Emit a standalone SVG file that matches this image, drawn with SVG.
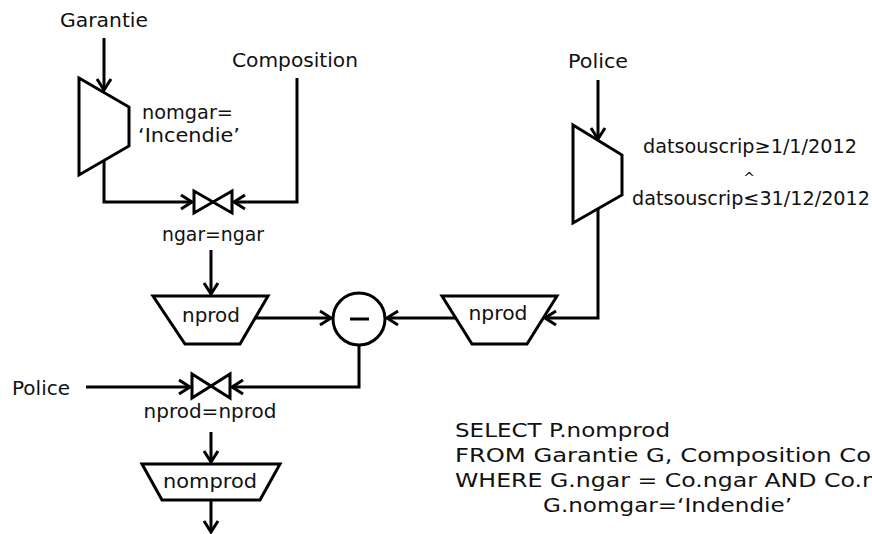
<svg xmlns="http://www.w3.org/2000/svg" width="872" height="534" viewBox="0 0 872 534">
  <style>
    text { font-family: "DejaVu Sans", "Liberation Sans", sans-serif; font-size: 19px; fill: #111; }
    .op { fill: #fff; stroke: #000; stroke-width: 3; stroke-linejoin: miter; }
    .ln { fill: none; stroke: #000; stroke-width: 3; }
    .mid { text-anchor: middle; }
  </style>
  <defs>
    <marker id="arr" viewBox="-14 -9 16 18" refX="0" refY="0" markerWidth="16" markerHeight="18" markerUnits="userSpaceOnUse" orient="auto">
      <path d="M-11,-7 L0,0 L-11,7" fill="none" stroke="#000" stroke-width="3"/>
    </marker>
  </defs>
  <rect width="872" height="534" fill="#fff"/>

  <g id="connectors">
    <path class="ln" d="M104,38 V90" marker-end="url(#arr)"/>
    <path class="ln" d="M104,160 V202 H192" marker-end="url(#arr)"/>
    <path class="ln" d="M297,78 V202 H234" marker-end="url(#arr)"/>
    <path class="ln" d="M211,250 V294" marker-end="url(#arr)"/>
    <path class="ln" d="M255,318 H331" marker-end="url(#arr)"/>
    <path class="ln" d="M598,80 V139" marker-end="url(#arr)"/>
    <path class="ln" d="M598,209 V318 H545" marker-end="url(#arr)"/>
    <path class="ln" d="M456,318 H387" marker-end="url(#arr)"/>
    <path class="ln" d="M359,345 V387 H232" marker-end="url(#arr)"/>
    <path class="ln" d="M86,387 H190" marker-end="url(#arr)"/>
    <path class="ln" d="M211,432 V462" marker-end="url(#arr)"/>
    <path class="ln" d="M211,500 V532" marker-end="url(#arr)"/>
  </g>

  <g id="garantie-label"><text x="104" y="27" class="mid" textLength="88" lengthAdjust="spacingAndGlyphs">Garantie</text></g>
  <g id="composition-label"><text x="295" y="67" class="mid" textLength="126" lengthAdjust="spacingAndGlyphs">Composition</text></g>
  <g id="police-label-right"><text x="598" y="68" class="mid" textLength="60" lengthAdjust="spacingAndGlyphs">Police</text></g>
  <g id="police-label-left"><text x="12" y="395" textLength="58" lengthAdjust="spacingAndGlyphs">Police</text></g>

  <g id="select-garantie">
    <polygon class="op" points="79,78 129,107 129,146 79,175"/>
    <text x="142" y="119" textLength="91" lengthAdjust="spacingAndGlyphs">nomgar=</text>
    <text x="138" y="142" textLength="102" lengthAdjust="spacingAndGlyphs">‘Incendie’</text>
  </g>

  <g id="join-ngar">
    <path class="op" d="M194,191 L194,213 L232,191 L232,213 Z"/>
    <text x="213" y="241" class="mid" textLength="102" lengthAdjust="spacingAndGlyphs">ngar=ngar</text>
  </g>

  <g id="project-nprod-left">
    <polygon class="op" points="153,296 268,296 240,344 185,344"/>
    <text x="211" y="322" class="mid" textLength="58" lengthAdjust="spacingAndGlyphs">nprod</text>
  </g>

  <g id="select-police">
    <polygon class="op" points="573,125 622,155 622,195 573,223"/>
    <text x="750" y="153" class="mid" textLength="214" lengthAdjust="spacingAndGlyphs">datsouscrip≥1/1/2012</text>
    <text x="749" y="183" class="mid" style="font-size:14px">^</text>
    <text x="751" y="205" class="mid" textLength="238" lengthAdjust="spacingAndGlyphs">datsouscrip≤31/12/2012</text>
  </g>

  <g id="project-nprod-right">
    <polygon class="op" points="442,296 557,296 527,344 472,344"/>
    <text x="498" y="320" class="mid" textLength="59" lengthAdjust="spacingAndGlyphs">nprod</text>
  </g>

  <g id="difference">
    <circle class="op" cx="359" cy="319" r="26"/>
    <line class="ln" x1="350" y1="319" x2="369" y2="319"/>
  </g>

  <g id="join-nprod">
    <path class="op" d="M192,374 L192,398 L230,374 L230,398 Z"/>
    <text x="210" y="418" class="mid" textLength="133" lengthAdjust="spacingAndGlyphs">nprod=nprod</text>
  </g>

  <g id="project-nomprod">
    <polygon class="op" points="142,464 280,464 260,500 162,500"/>
    <text x="210" y="488" class="mid" textLength="94" lengthAdjust="spacingAndGlyphs">nomprod</text>
  </g>

  <g id="sql">
    <text x="455" y="437" textLength="215" lengthAdjust="spacingAndGlyphs">SELECT P.nomprod</text>
    <text x="455" y="462" textLength="416" lengthAdjust="spacingAndGlyphs">FROM Garantie G, Composition Co</text>
    <text x="455" y="487" textLength="422" lengthAdjust="spacingAndGlyphs">WHERE G.ngar = Co.ngar AND Co.n</text>
    <text x="543" y="512" textLength="249" lengthAdjust="spacingAndGlyphs">G.nomgar=‘Indendie’</text>
  </g>
</svg>
